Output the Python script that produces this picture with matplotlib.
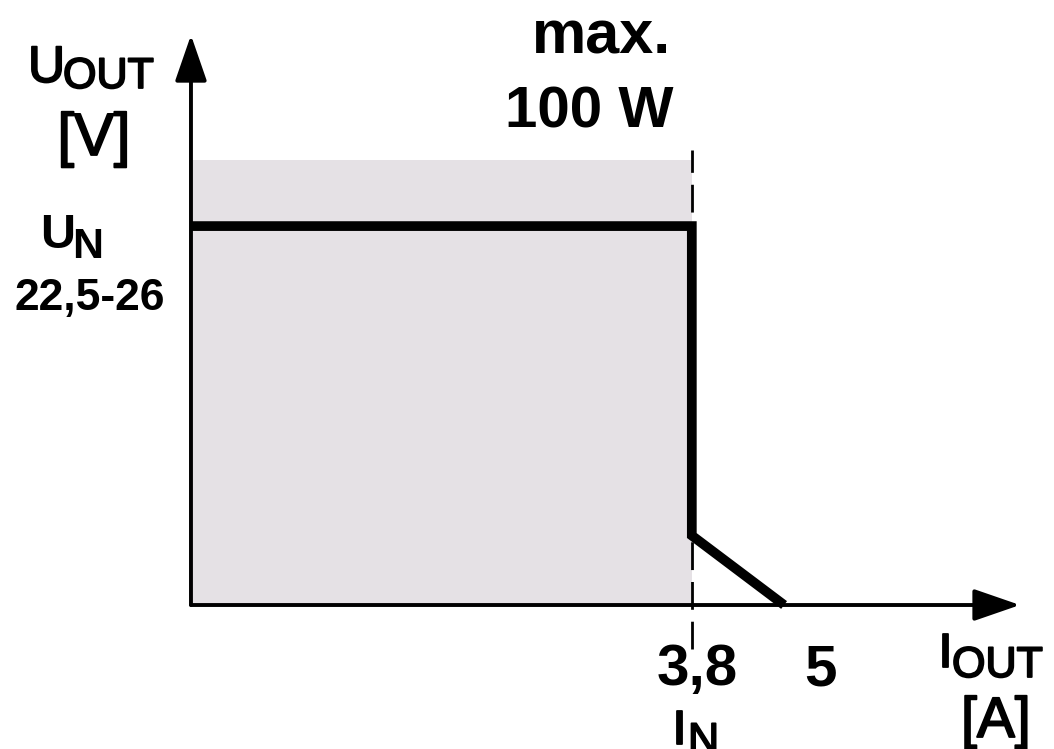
import matplotlib
matplotlib.use('Agg')
import matplotlib.pyplot as plt
import matplotlib.patheffects as pe
from matplotlib.patches import Rectangle

plt.rcParams['font.family'] = ['Liberation Sans', 'DejaVu Sans']

# characteristic curve (schematic): output current [A] vs output voltage [V]
current = [0, 3.8, 3.8, 4.5]
voltage = [24, 24, 4.4, 0]
i_nom = 3.8
u_area_top = 28.2      # top of the shaded 100 W area
x_axis_max = 6.29
y_axis_max = 36.1

W, H = 1054, 749


def px(x, y):
    # pixel position (from top-left) -> figure fraction
    return x / W, 1 - y / H


fig = plt.figure(figsize=(W / 100, H / 100), dpi=100)
ax = fig.add_axes([0, 0, 1, 1])
ax.set_xlim(-1.449, 6.548)
ax.set_ylim(-9.12, 38.32)
ax.axis('off')

# shaded area
ax.add_patch(Rectangle((0, 0), i_nom, u_area_top, facecolor='#e5e1e5',
                       edgecolor='none', zorder=1))

# axes with arrows
arrow = dict(arrowstyle='-|>,head_length=1.1,head_width=0.38', mutation_scale=26,
             lw=2.8, color='black', shrinkA=0, shrinkB=0)
ax.annotate('', xy=(0, y_axis_max), xytext=(0, 0), arrowprops=arrow, zorder=3)
ax.annotate('', xy=(x_axis_max, 0), xytext=(0, 0), arrowprops=arrow, zorder=3)

# dashed line at I_N
ax.plot([i_nom, i_nom], [-2.8, 28.8], color='black', lw=2, dashes=(10, 4.3), zorder=2)

# curve
ax.plot(current, voltage, color='black', lw=7, solid_joinstyle='miter',
        solid_capstyle='butt', zorder=4)

bold = dict(fontweight='bold', color='black')
# medium-ish weight: regular glyphs with a thin outline
reg = dict(fontweight='normal', color='black',
           path_effects=[pe.withStroke(linewidth=1.3, foreground='black')])

fig.text(*px(28, 82), 'U', fontsize=37, va='baseline', ha='left', **reg)
fig.text(*px(63, 88), 'OUT', fontsize=31, va='baseline', ha='left', **reg)
fig.text(*px(94, 155), '[V]', fontsize=43, va='baseline', ha='center', **reg)

fig.text(*px(40, 248), 'U', fontsize=35, va='baseline', ha='left', **bold)
fig.text(*px(72, 258), 'N', fontsize=31, va='baseline', ha='left', **bold)
fig.text(*px(90, 310), '22,5-26', fontsize=32, va='baseline', ha='center', **bold)

fig.text(*px(602, 53), 'max.', fontsize=44, va='baseline', ha='center', **bold)
fig.text(*px(589, 127), '100 W', fontsize=42, va='baseline', ha='center', **bold)

fig.text(*px(697, 685), '3,8', fontsize=42, va='baseline', ha='center', **bold)
fig.text(*px(820, 685), '5', fontsize=42, va='baseline', ha='center', **bold)

fig.text(*px(939, 667), 'I', fontsize=35, va='baseline', ha='left', **reg)
fig.text(*px(952, 677), 'OUT', fontsize=31, va='baseline', ha='left', **reg)
fig.text(*px(996, 737), '[A]', fontsize=41, va='baseline', ha='center', **reg)

fig.text(*px(673, 744), 'I', fontsize=35, va='baseline', ha='left', **reg)
fig.text(*px(688, 753), 'N', fontsize=31, va='baseline', ha='left', **reg)

fig.savefig('out.png', dpi=100, facecolor='white')
